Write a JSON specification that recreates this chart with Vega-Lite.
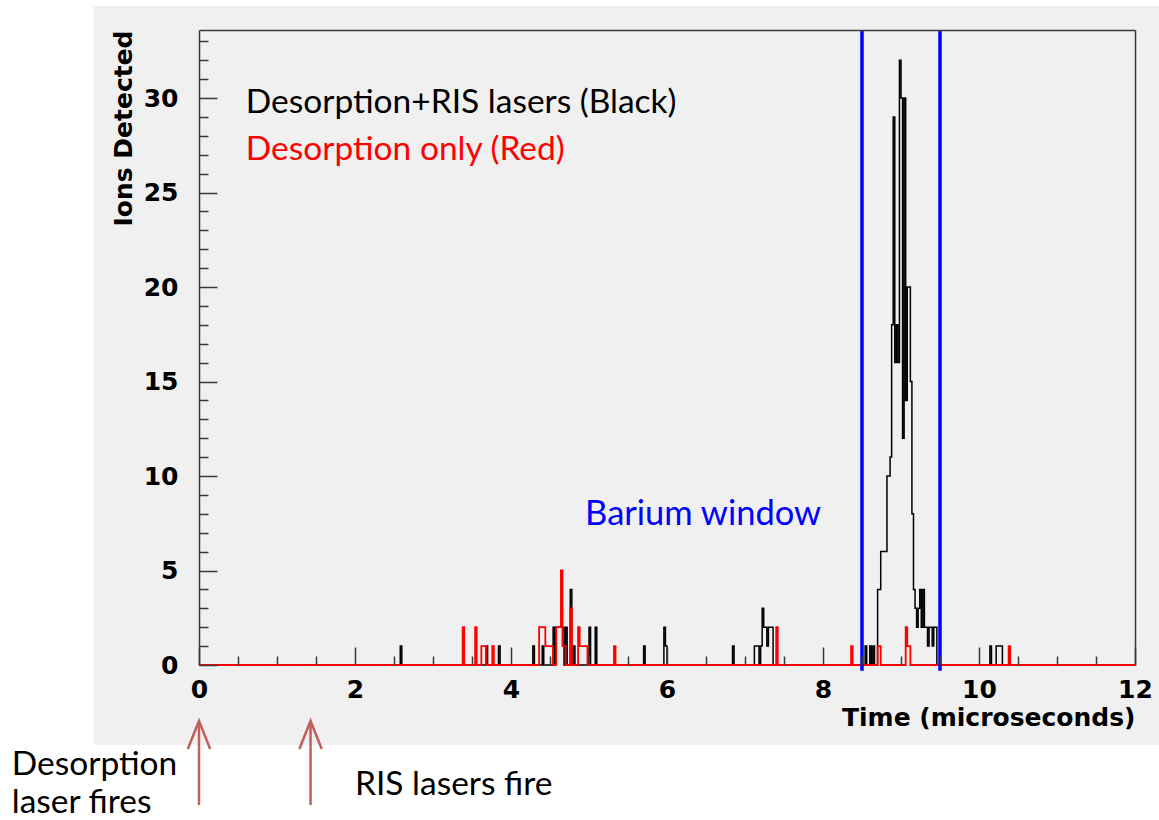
{
  "$schema": "https://vega.github.io/schema/vega-lite/v6.json",
  "width": 936,
  "height": 635,
  "autosize": {"type": "none"},
  "padding": {"left": 199, "top": 30, "right": 24, "bottom": 155},
  "background": "#ffffff",
  "config": {
    "view": {"stroke": null},
    "axis": {
      "grid": false,
      "tickColor": "#3a3a3a",
      "domainColor": "#3a3a3a",
      "tickWidth": 1.5,
      "domainWidth": 1.5,
      "labelFont": "DejaVu Sans",
      "labelFontWeight": "bold",
      "labelFontSize": 25,
      "labelColor": "#000000",
      "titleFont": "DejaVu Sans",
      "titleFontWeight": "bold",
      "titleFontSize": 25,
      "titleColor": "#000000",
      "labelOverlap": false,
      "labelFlush": false
    }
  },
  "datasets": {
    "withRIS": [
      {"t": 0, "n": 0},
      {"t": 2.58, "n": 1}, {"t": 2.6, "n": 0},
      {"t": 3.68, "n": 1}, {"t": 3.7, "n": 0},
      {"t": 3.84, "n": 1}, {"t": 3.86, "n": 0},
      {"t": 4.28, "n": 1}, {"t": 4.3, "n": 0},
      {"t": 4.4, "n": 1}, {"t": 4.42, "n": 0},
      {"t": 4.54, "n": 2}, {"t": 4.56, "n": 0},
      {"t": 4.58, "n": 2}, {"t": 4.6, "n": 2}, {"t": 4.62, "n": 2}, {"t": 4.64, "n": 2}, {"t": 4.66, "n": 2}, {"t": 4.68, "n": 0},
      {"t": 4.7, "n": 2}, {"t": 4.72, "n": 0},
      {"t": 4.76, "n": 4}, {"t": 4.78, "n": 0},
      {"t": 4.8, "n": 1}, {"t": 4.82, "n": 0},
      {"t": 5.0, "n": 2}, {"t": 5.02, "n": 0},
      {"t": 5.08, "n": 2}, {"t": 5.1, "n": 0},
      {"t": 5.7, "n": 1}, {"t": 5.72, "n": 0},
      {"t": 5.96, "n": 2}, {"t": 5.98, "n": 1}, {"t": 6.0, "n": 0},
      {"t": 6.84, "n": 1}, {"t": 6.86, "n": 0},
      {"t": 7.12, "n": 1}, {"t": 7.14, "n": 1}, {"t": 7.16, "n": 1}, {"t": 7.18, "n": 0},
      {"t": 7.2, "n": 1}, {"t": 7.22, "n": 3}, {"t": 7.24, "n": 2}, {"t": 7.26, "n": 2}, {"t": 7.28, "n": 1}, {"t": 7.3, "n": 2}, {"t": 7.32, "n": 2}, {"t": 7.34, "n": 2}, {"t": 7.36, "n": 0},
      {"t": 8.54, "n": 1}, {"t": 8.56, "n": 0},
      {"t": 8.6, "n": 1}, {"t": 8.62, "n": 0},
      {"t": 8.64, "n": 1}, {"t": 8.66, "n": 0},
      {"t": 8.7, "n": 4}, {"t": 8.72, "n": 4}, {"t": 8.74, "n": 6}, {"t": 8.76, "n": 6}, {"t": 8.78, "n": 6}, {"t": 8.8, "n": 6},
      {"t": 8.82, "n": 10}, {"t": 8.84, "n": 10}, {"t": 8.86, "n": 11}, {"t": 8.88, "n": 18}, {"t": 8.9, "n": 29},
      {"t": 8.92, "n": 16}, {"t": 8.94, "n": 18}, {"t": 8.96, "n": 16}, {"t": 8.98, "n": 32}, {"t": 9.0, "n": 30},
      {"t": 9.02, "n": 12}, {"t": 9.04, "n": 30}, {"t": 9.06, "n": 14}, {"t": 9.08, "n": 20}, {"t": 9.1, "n": 20},
      {"t": 9.12, "n": 15}, {"t": 9.14, "n": 8}, {"t": 9.16, "n": 4}, {"t": 9.18, "n": 3}, {"t": 9.2, "n": 2},
      {"t": 9.22, "n": 3}, {"t": 9.24, "n": 4}, {"t": 9.26, "n": 2}, {"t": 9.28, "n": 4}, {"t": 9.3, "n": 2},
      {"t": 9.32, "n": 2}, {"t": 9.34, "n": 1}, {"t": 9.36, "n": 2}, {"t": 9.38, "n": 2}, {"t": 9.4, "n": 1},
      {"t": 9.42, "n": 2}, {"t": 9.44, "n": 2}, {"t": 9.46, "n": 0},
      {"t": 10.14, "n": 1}, {"t": 10.16, "n": 0},
      {"t": 10.22, "n": 1}, {"t": 10.24, "n": 1}, {"t": 10.26, "n": 1}, {"t": 10.28, "n": 1}, {"t": 10.3, "n": 0},
      {"t": 12, "n": 0}
    ],
    "desorptionOnly": [
      {"t": 0, "n": 0},
      {"t": 3.38, "n": 2}, {"t": 3.4, "n": 0},
      {"t": 3.54, "n": 2}, {"t": 3.56, "n": 0},
      {"t": 3.62, "n": 1}, {"t": 3.64, "n": 1}, {"t": 3.66, "n": 1}, {"t": 3.68, "n": 0},
      {"t": 3.76, "n": 1}, {"t": 3.78, "n": 0},
      {"t": 4.36, "n": 2}, {"t": 4.38, "n": 2}, {"t": 4.4, "n": 2}, {"t": 4.42, "n": 2}, {"t": 4.44, "n": 1}, {"t": 4.46, "n": 1}, {"t": 4.48, "n": 1}, {"t": 4.5, "n": 1}, {"t": 4.52, "n": 1}, {"t": 4.54, "n": 0},
      {"t": 4.58, "n": 2}, {"t": 4.6, "n": 2}, {"t": 4.62, "n": 2}, {"t": 4.64, "n": 5}, {"t": 4.66, "n": 1}, {"t": 4.68, "n": 1}, {"t": 4.7, "n": 0},
      {"t": 4.76, "n": 3}, {"t": 4.78, "n": 0},
      {"t": 4.86, "n": 2}, {"t": 4.88, "n": 1}, {"t": 4.9, "n": 1}, {"t": 4.92, "n": 1}, {"t": 4.94, "n": 1}, {"t": 4.96, "n": 1}, {"t": 4.98, "n": 0},
      {"t": 5.32, "n": 1}, {"t": 5.34, "n": 0},
      {"t": 7.4, "n": 2}, {"t": 7.42, "n": 0},
      {"t": 8.36, "n": 1}, {"t": 8.38, "n": 0},
      {"t": 8.7, "n": 1}, {"t": 8.72, "n": 1}, {"t": 8.74, "n": 0},
      {"t": 9.06, "n": 2}, {"t": 9.08, "n": 1}, {"t": 9.1, "n": 1}, {"t": 9.12, "n": 0},
      {"t": 10.38, "n": 1}, {"t": 10.4, "n": 0},
      {"t": 12, "n": 0}
    ],
    "window": [{"t": 8.5}, {"t": 9.5}],
    "firings": [{"t": 0}, {"t": 1.43}]
  },
  "resolve": {"axis": {"x": "independent", "y": "independent"}},
  "layer": [
    {
      "data": {"values": [{}]},
      "mark": {"type": "rect", "fill": "#f0f0f0"},
      "encoding": {
        "x": {"datum": -1.35, "type": "quantitative", "scale": {"domain": [0, 12], "nice": false},
              "axis": {"orient": "top", "ticks": false, "labels": false, "title": null, "domain": true, "zindex": 1}},
        "x2": {"datum": 12.31},
        "y": {"datum": -4.23, "type": "quantitative", "scale": {"domain": [0, 33.6], "nice": false},
              "axis": {"orient": "right", "ticks": false, "labels": false, "title": null, "domain": true, "zindex": 1}},
        "y2": {"datum": 34.87}
      }
    },
    {
      "data": {"name": "withRIS"},
      "mark": {"type": "line", "interpolate": "step-after", "color": "#000000", "strokeWidth": 1.5, "strokeJoin": "miter"},
      "encoding": {
        "x": {"field": "t", "type": "quantitative", "scale": {"domain": [0, 12], "nice": false},
              "axis": {"orient": "bottom", "values": [0.5, 1, 1.5, 2.5, 3, 3.5, 4.5, 5, 5.5, 6.5, 7, 7.5, 8.5, 9, 9.5, 10.5, 11, 11.5],
                       "tickSize": -9, "labels": false, "domain": false, "title": null, "zindex": 1}},
        "y": {"field": "n", "type": "quantitative", "scale": {"domain": [0, 33.6], "nice": false},
              "axis": {"orient": "left", "values": [1, 2, 3, 4, 6, 7, 8, 9, 11, 12, 13, 14, 16, 17, 18, 19, 21, 22, 23, 24, 26, 27, 28, 29, 31, 32, 33],
                       "tickSize": -9, "labels": false, "domain": true, "title": null, "zindex": 1}}
      }
    },
    {
      "data": {"name": "desorptionOnly"},
      "mark": {"type": "line", "interpolate": "step-after", "color": "#ff0000", "strokeWidth": 1.8, "strokeJoin": "miter"},
      "encoding": {
        "x": {"field": "t", "type": "quantitative", "scale": {"domain": [0, 12], "nice": false},
              "axis": {"orient": "bottom", "values": [0, 2, 4, 6, 8, 10, 12], "tickSize": -18, "labelPadding": 30,
                       "labelBaseline": "top", "domain": false, "zindex": 1,
                       "title": "Time (microseconds)", "titleAnchor": "end", "titleAlign": "right",
                       "titleBaseline": "middle", "titleX": 936, "titleY": 52}},
        "y": {"field": "n", "type": "quantitative", "scale": {"domain": [0, 33.6], "nice": false},
              "axis": {"orient": "left", "values": [0, 5, 10, 15, 20, 25, 30], "tickSize": -18, "labelPadding": 39,
                       "domain": false, "zindex": 1,
                       "title": "Ions Detected", "titleAngle": -90, "titleAlign": "right",
                       "titleBaseline": "middle", "titleX": -76, "titleY": 0}}
      }
    },
    {
      "data": {"name": "window"},
      "mark": {"type": "rule", "color": "#0000ff", "strokeWidth": 3.5},
      "encoding": {
        "x": {"field": "t", "type": "quantitative", "scale": {"domain": [0, 12], "nice": false}, "axis": null},
        "y": {"datum": 33.6, "type": "quantitative", "scale": {"domain": [0, 33.6], "nice": false}, "axis": null},
        "y2": {"datum": -0.3}
      }
    },
    {
      "data": {"values": [{}]},
      "mark": {"type": "text", "font": "Lato", "fontSize": 34.5, "align": "left", "baseline": "middle", "color": "#0000ff"},
      "encoding": {
        "text": {"value": "Barium window"},
        "x": {"datum": 4.95, "type": "quantitative", "scale": {"domain": [0, 12], "nice": false}, "axis": null},
        "y": {"datum": 7.94, "type": "quantitative", "scale": {"domain": [0, 33.6], "nice": false}, "axis": null}
      }
    },
    {
      "data": {"values": [{}]},
      "mark": {"type": "text", "font": "Lato", "fontSize": 33.5, "align": "left", "baseline": "middle", "color": "#000000"},
      "encoding": {
        "text": {"value": "Desorption+RIS lasers (Black)"},
        "x": {"datum": 0.6, "type": "quantitative", "scale": {"domain": [0, 12], "nice": false}, "axis": null},
        "y": {"datum": 29.74, "type": "quantitative", "scale": {"domain": [0, 33.6], "nice": false}, "axis": null}
      }
    },
    {
      "data": {"values": [{}]},
      "mark": {"type": "text", "font": "Lato", "fontSize": 33.5, "align": "left", "baseline": "middle", "color": "#ff0000"},
      "encoding": {
        "text": {"value": "Desorption only (Red)"},
        "x": {"datum": 0.6, "type": "quantitative", "scale": {"domain": [0, 12], "nice": false}, "axis": null},
        "y": {"datum": 27.25, "type": "quantitative", "scale": {"domain": [0, 33.6], "nice": false}, "axis": null}
      }
    },
    {
      "data": {"name": "firings"},
      "mark": {"type": "rule", "color": "#c0605c", "strokeWidth": 2.5, "clip": false},
      "encoding": {
        "x": {"field": "t", "type": "quantitative", "scale": {"domain": [0, 12], "nice": false}, "axis": null},
        "y": {"datum": -3.12, "type": "quantitative", "scale": {"domain": [0, 33.6], "nice": false}, "axis": null},
        "y2": {"datum": -7.41}
      }
    },
    {
      "data": {"name": "firings"},
      "mark": {"type": "point", "shape": "M-0.8,1L0,-1L0.8,1", "filled": false, "size": 784, "stroke": "#c0605c", "strokeWidth": 2.5, "strokeJoin": "miter", "opacity": 1},
      "encoding": {
        "x": {"field": "t", "type": "quantitative", "scale": {"domain": [0, 12], "nice": false}, "axis": null},
        "y": {"datum": -3.7, "type": "quantitative", "scale": {"domain": [0, 33.6], "nice": false}, "axis": null}
      }
    },
    {
      "data": {"values": [{}]},
      "mark": {"type": "text", "font": "Lato", "fontSize": 33.5, "align": "left", "baseline": "middle", "color": "#000000", "lineBreak": "\n", "lineHeight": 38},
      "encoding": {
        "text": {"value": "Desorption\nlaser fires"},
        "x": {"datum": -2.4, "type": "quantitative", "scale": {"domain": [0, 12], "nice": false}, "axis": null},
        "y": {"datum": -5.29, "type": "quantitative", "scale": {"domain": [0, 33.6], "nice": false}, "axis": null}
      }
    },
    {
      "data": {"values": [{}]},
      "mark": {"type": "text", "font": "Lato", "fontSize": 33.5, "align": "left", "baseline": "middle", "color": "#000000"},
      "encoding": {
        "text": {"value": "RIS lasers fire"},
        "x": {"datum": 2.0, "type": "quantitative", "scale": {"domain": [0, 12], "nice": false}, "axis": null},
        "y": {"datum": -6.35, "type": "quantitative", "scale": {"domain": [0, 33.6], "nice": false}, "axis": null}
      }
    }
  ]
}
